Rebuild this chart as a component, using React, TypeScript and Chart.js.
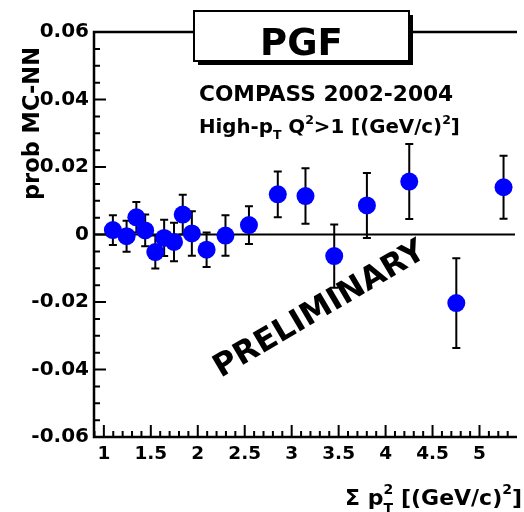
import React, { useEffect, useRef } from "react";
import { Chart, registerables } from "chart.js";

Chart.register(...registerables);

// ---- data ----
const xValues = [1.096, 1.242, 1.346, 1.44, 1.548, 1.642, 1.747, 1.84, 1.937, 2.094, 2.295, 2.545, 2.852, 3.147, 3.453, 3.801, 4.252, 4.753, 5.256];
const yValues = [0.0013, -0.0005, 0.0051, 0.0012, -0.0052, -0.001, -0.0022, 0.0059, 0.0003, -0.0045, -0.0003, 0.0028, 0.0119, 0.0114, -0.0064, 0.0086, 0.0157, -0.0203, 0.014];
const yErrors = [0.0044, 0.0046, 0.0045, 0.0047, 0.0049, 0.0054, 0.0057, 0.0059, 0.0066, 0.0051, 0.006, 0.0056, 0.0068, 0.0082, 0.0094, 0.0096, 0.0111, 0.0133, 0.0093];

const xTicks = [1, 1.5, 2, 2.5, 3, 3.5, 4, 4.5, 5];
const xTickLabels = ["1", "1.5", "2", "2.5", "3", "3.5", "4", "4.5", "5"];
const yTicks = [-0.06, -0.04, -0.02, 0, 0.02, 0.04, 0.06];
const yTickLabels = ["-0.06", "-0.04", "-0.02", "0", "0.02", "0.04", "0.06"];

const X_MIN = 0.895;
const X_MAX = 5.378;
const Y_MIN = -0.06;
const Y_MAX = 0.06;

const FONT = '"DejaVu Sans"';

type Seg = { t: string; size: number; dy?: number; stack?: boolean };

function segsWidth(ctx: CanvasRenderingContext2D, segs: Seg[]) {
  let x = 0;
  let prevX = 0;
  let prevW = 0;
  for (const s of segs) {
    ctx.font = `bold ${s.size}px ${FONT}`;
    const w = ctx.measureText(s.t).width;
    if (s.stack) {
      const m = Math.max(prevW, w);
      x = prevX + m;
      prevW = m;
    } else {
      prevX = x;
      prevW = w;
      x += w;
    }
  }
  return x;
}

function drawSegs(ctx: CanvasRenderingContext2D, segs: Seg[], left: number, baseline: number) {
  let x = left;
  let prevX = left;
  let prevW = 0;
  ctx.textAlign = "left";
  ctx.textBaseline = "alphabetic";
  for (const s of segs) {
    ctx.font = `bold ${s.size}px ${FONT}`;
    const w = ctx.measureText(s.t).width;
    if (s.stack) {
      ctx.fillText(s.t, prevX, baseline + (s.dy || 0));
      const m = Math.max(prevW, w);
      x = prevX + m;
      prevW = m;
    } else {
      ctx.fillText(s.t, x, baseline + (s.dy || 0));
      prevX = x;
      prevW = w;
      x += w;
    }
  }
}

const rootPlugin = {
  id: "rootStyle",
  beforeDatasetsDraw(chart: any) {
    const { ctx, chartArea: a, scales } = chart;
    const xs = scales.x;
    const ys = scales.y;
    ctx.save();
    ctx.strokeStyle = "#000";
    ctx.lineWidth = 2;
    // zero line
    const y0 = ys.getPixelForValue(0);
    ctx.beginPath();
    ctx.moveTo(a.left, y0);
    ctx.lineTo(a.right, y0);
    ctx.stroke();
    // error bars
    xValues.forEach((xv, i) => {
      const px = xs.getPixelForValue(xv);
      const top = ys.getPixelForValue(yValues[i] + yErrors[i]);
      const bot = ys.getPixelForValue(yValues[i] - yErrors[i]);
      ctx.beginPath();
      ctx.moveTo(px, top);
      ctx.lineTo(px, bot);
      ctx.moveTo(px - 4, top);
      ctx.lineTo(px + 4, top);
      ctx.moveTo(px - 4, bot);
      ctx.lineTo(px + 4, bot);
      ctx.stroke();
    });
    ctx.restore();
  },
  afterDatasetsDraw(chart: any) {
    const { ctx, chartArea: a, scales } = chart;
    const xs = scales.x;
    const ys = scales.y;
    ctx.save();
    ctx.strokeStyle = "#000";
    ctx.fillStyle = "#000";
    // frame: left, top, bottom
    ctx.lineWidth = 2.5;
    ctx.beginPath();
    ctx.moveTo(a.right + 2, a.top);
    ctx.lineTo(a.left, a.top);
    ctx.lineTo(a.left, a.bottom);
    ctx.lineTo(a.right + 2, a.bottom);
    ctx.stroke();
    // ticks
    ctx.lineWidth = 2;
    ctx.beginPath();
    for (let i = Math.ceil(Y_MIN * 200); i <= Math.floor(Y_MAX * 200); i++) {
      const v = i / 200;
      const py = ys.getPixelForValue(v);
      const len = i % 4 === 0 ? 12 : 6;
      ctx.moveTo(a.left, py);
      ctx.lineTo(a.left + len, py);
    }
    for (let i = Math.ceil(X_MIN * 10); i <= Math.floor(X_MAX * 10); i++) {
      const v = i / 10;
      const px = xs.getPixelForValue(v);
      const len = i % 5 === 0 ? 12 : 6;
      ctx.moveTo(px, a.bottom);
      ctx.lineTo(px, a.bottom - len);
    }
    ctx.stroke();

    // PGF box with shadow
    const bx = 194, by = 11, bw = 215, bh = 50;
    ctx.fillStyle = "#000";
    ctx.fillRect(bx + 4, by + 4, bw, bh);
    ctx.fillStyle = "#fff";
    ctx.fillRect(bx, by, bw, bh);
    ctx.lineWidth = 2;
    ctx.strokeRect(bx, by, bw, bh);
    ctx.fillStyle = "#000";
    ctx.font = `bold 37px ${FONT}`;
    ctx.textAlign = "center";
    ctx.textBaseline = "alphabetic";
    ctx.fillText("PGF", bx + bw / 2, 55);

    // Header lines
    drawSegs(ctx, [{ t: "COMPASS 2002-2004", size: 21.7 }], 199, 101);
    drawSegs(
      ctx,
      [
        { t: "High-p", size: 19.8 },
        { t: "T", size: 12.5, dy: 6 },
        { t: " Q", size: 19.8 },
        { t: "2", size: 12.5, dy: -9 },
        { t: ">1 [(GeV/c)", size: 19.8 },
        { t: "2", size: 12.5, dy: -9 },
        { t: "]", size: 19.8 },
      ],
      199,
      132.5
    );

    // y title
    ctx.save();
    ctx.translate(39, 123.5);
    ctx.rotate(-Math.PI / 2);
    ctx.font = `bold 22.5px ${FONT}`;
    ctx.textAlign = "center";
    ctx.textBaseline = "alphabetic";
    ctx.fillText("prob MC-NN", 0, 0);
    ctx.restore();

    // x title (right aligned)
    const xt: Seg[] = [
      { t: "\u03A3 ", size: 22 },
      { t: "p", size: 22 },
      { t: "2", size: 14, dy: -11 },
      { t: "T", size: 14, dy: 8, stack: true },
      { t: " [(GeV/c)", size: 22 },
      { t: "2", size: 14, dy: -11 },
      { t: "]", size: 22 },
    ];
    const w = segsWidth(ctx, xt);
    drawSegs(ctx, xt, 522 - w, 505);

    // PRELIMINARY
    ctx.save();
    ctx.translate(320, 310);
    ctx.rotate(-30.5 * Math.PI / 180);
    ctx.font = `bold 31.5px ${FONT}`;
    ctx.textAlign = "center";
    ctx.textBaseline = "middle";
    ctx.fillText("PRELIMINARY", 0, 0);
    ctx.restore();

    ctx.restore();
  },
};

export default function App() {
  const ref = useRef<HTMLCanvasElement | null>(null);
  useEffect(() => {
    const canvas = ref.current;
    if (!canvas) return;
    const chart = new Chart(canvas, {
      type: "scatter",
      data: {
        datasets: [
          {
            data: xValues.map((x, i) => ({ x, y: yValues[i] })),
            pointRadius: 9,
            pointHoverRadius: 9,
            backgroundColor: "#0000ff",
            borderColor: "#0000ff",
            borderWidth: 0,
            pointBorderWidth: 0,
          },
        ],
      },
      options: {
        animation: false,
        responsive: false,
        devicePixelRatio: 1,
        events: [],
        layout: { padding: { top: 32, left: 0, right: 0, bottom: 0 } },
        plugins: { legend: { display: false }, tooltip: { enabled: false } },
        scales: {
          x: {
            type: "linear",
            min: X_MIN,
            max: X_MAX,
            grid: { display: false, drawTicks: false },
            border: { display: false },
            afterBuildTicks: (s: any) => {
              s.ticks = xTicks.map((v) => ({ value: v }));
            },
            afterFit: (s: any) => {
              s.height = 75;
            },
            ticks: {
              padding: 6,
              color: "#000",
              autoSkip: false,
              maxRotation: 0,
              font: { family: FONT, weight: "bold", size: 18.5 },
              callback: (_v: any, i: number) => xTickLabels[i],
            },
          },
          y: {
            type: "linear",
            min: Y_MIN,
            max: Y_MAX,
            grid: { display: false, drawTicks: false },
            border: { display: false },
            afterBuildTicks: (s: any) => {
              s.ticks = yTicks.map((v) => ({ value: v }));
            },
            afterFit: (s: any) => {
              s.width = 94;
            },
            ticks: {
              padding: 5,
              color: "#000",
              autoSkip: false,
              font: { family: FONT, weight: "bold", size: 20 },
              callback: (_v: any, i: number) => yTickLabels[i],
            },
          },
        },
      } as any,
      plugins: [rootPlugin],
    });
    return () => chart.destroy();
  }, []);
  return (
    <div style={{ position: "absolute", left: 0, top: 0, width: 524, height: 512, background: "#fff" }}>
      <canvas ref={ref} width={524} height={512} style={{ display: "block" }} />
    </div>
  );
}
